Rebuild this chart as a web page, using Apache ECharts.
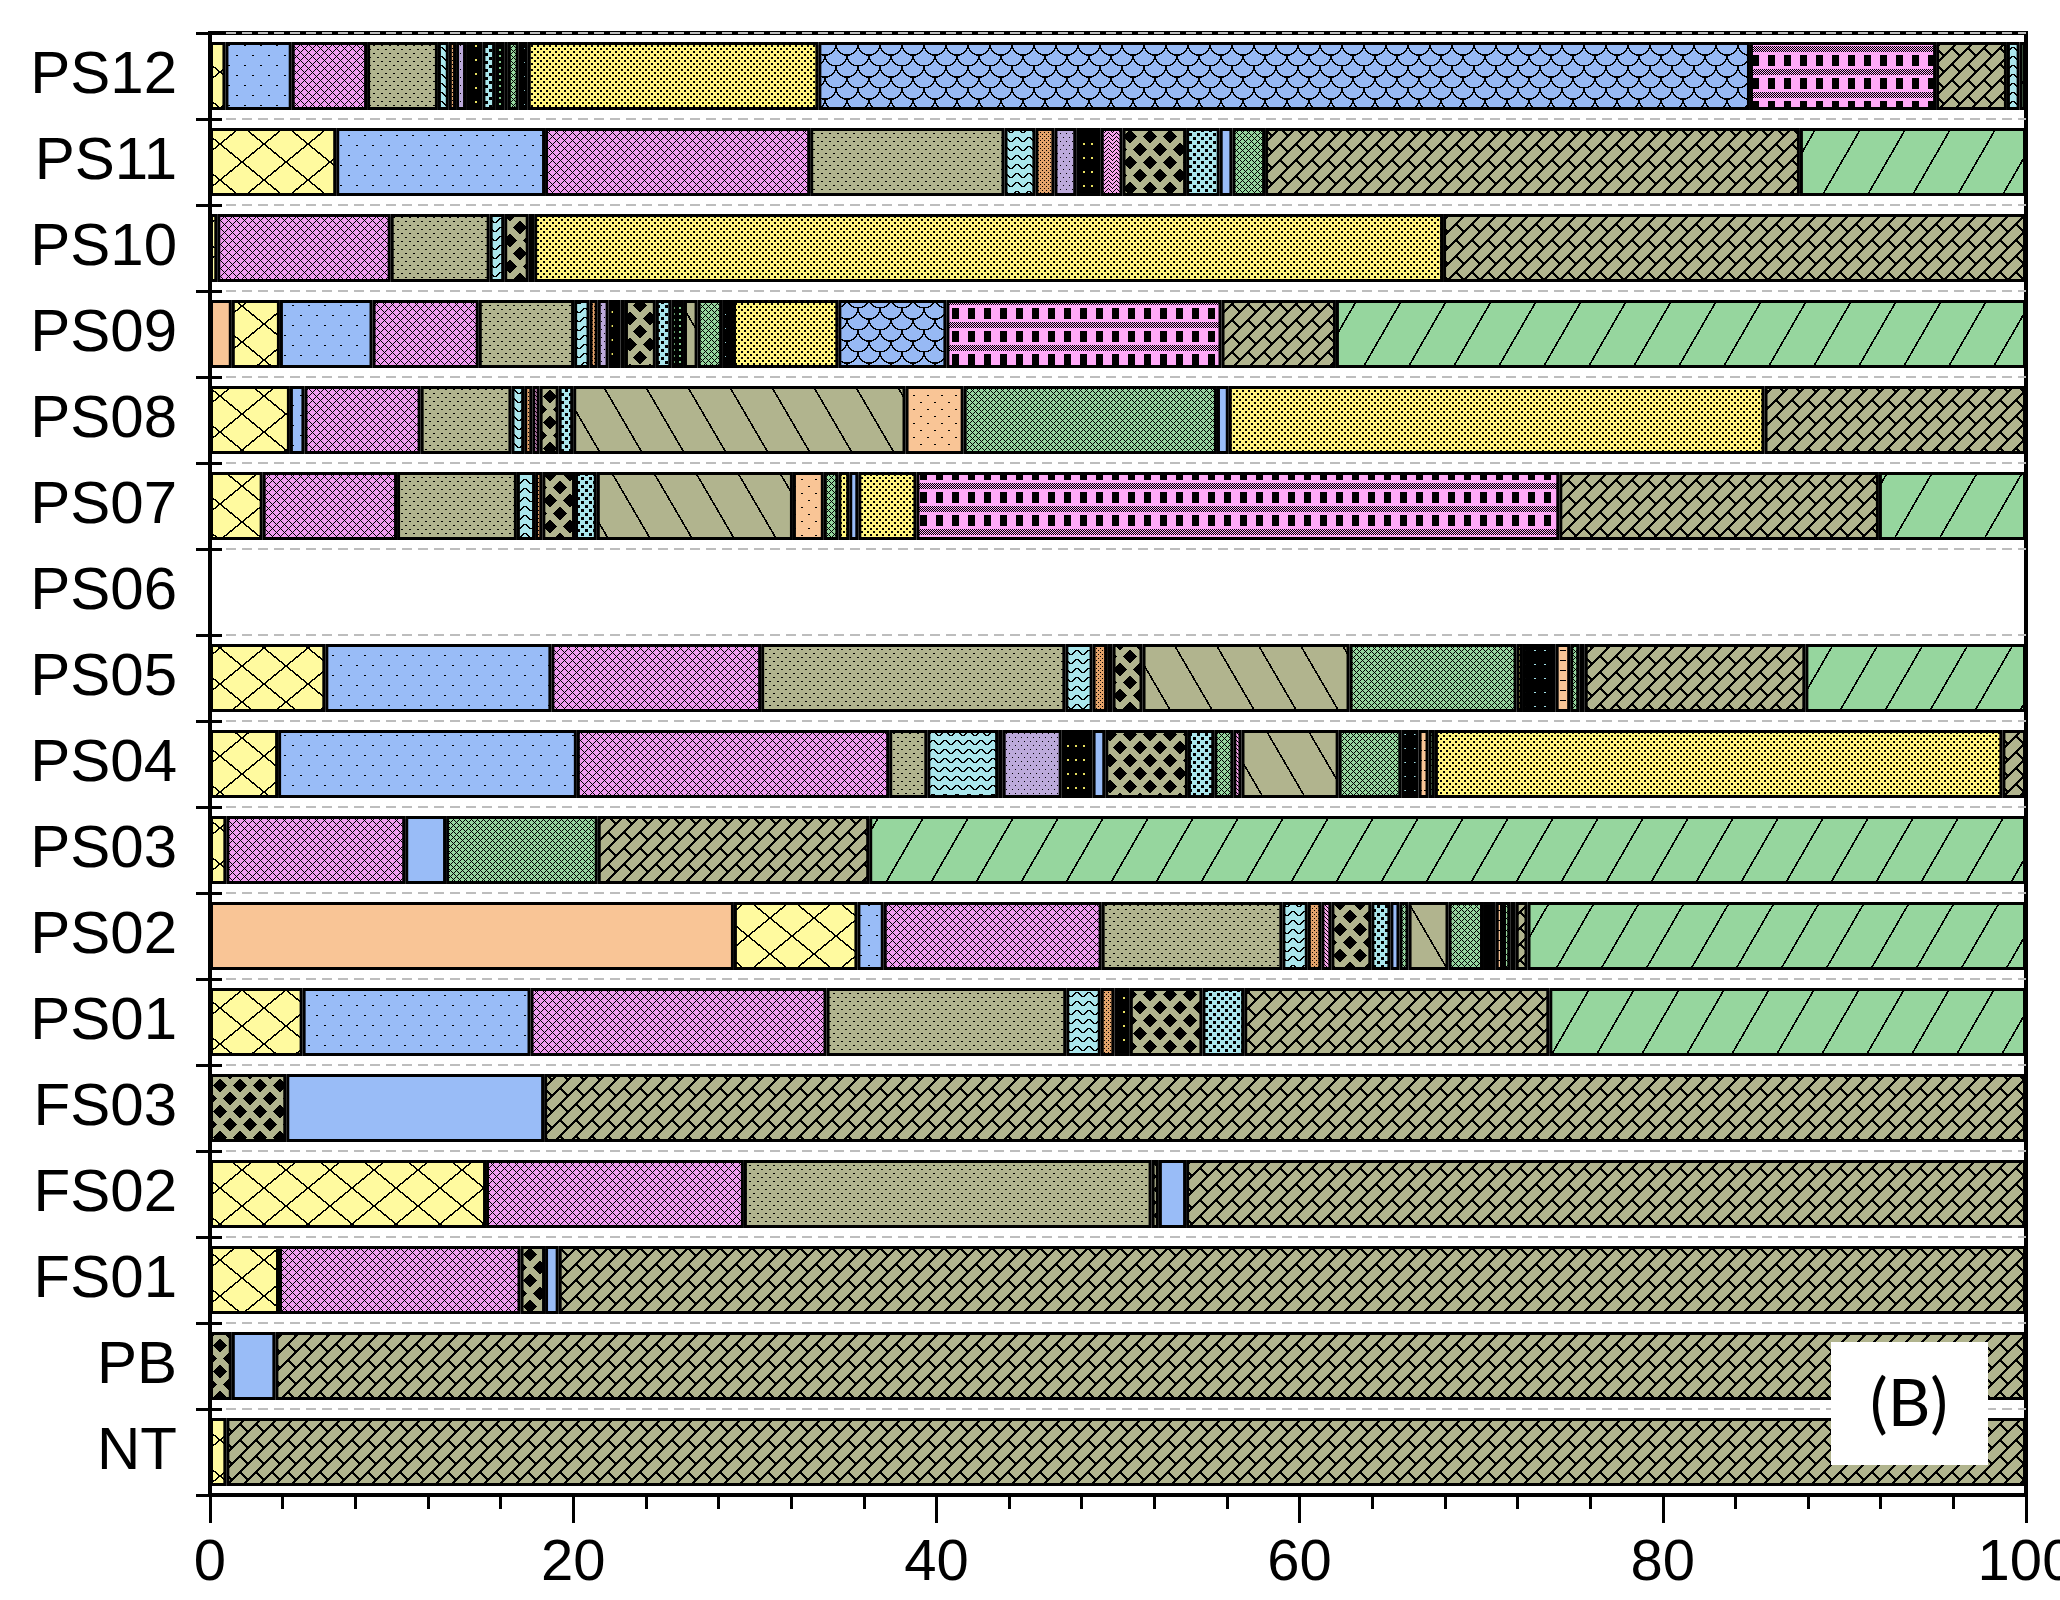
<!DOCTYPE html>
<html>
<head>
<meta charset="utf-8">
<script src="https://cdn.jsdelivr.net/npm/echarts@6/dist/echarts.min.js"></script>
<style>
  html, body { margin: 0; padding: 0; background: #fff; }
  #chart { width: 2060px; height: 1600px; }
</style>
</head>
<body>
<div id="chart"></div>
<script>
// categories, top to bottom
const categories = ['PS12', 'PS11', 'PS10', 'PS09', 'PS08', 'PS07', 'PS06', 'PS05', 'PS04', 'PS03', 'PS02', 'PS01', 'FS03', 'FS02', 'FS01', 'PB', 'NT']
const xTicks = [0, 20, 40, 60, 80, 100]

// stacked components (%), one value per category, stacking order left to right
const orangeSolid = [0, 0, 0, 1.2, 0, 0, 0, 0, 0, 0, 28.85, 0, 0, 0, 0, 0, 0]
const yellowX = [0.85, 6.95, 0.4, 2.65, 4.4, 2.9, 0, 6.35, 3.75, 0.9, 6.8, 5.1, 0, 15.2, 3.8, 0, 0.9]
const blueDots = [3.65, 11.5, 0, 5.1, 0.8, 0, 0, 12.45, 16.45, 0, 1.45, 12.55, 0, 0, 0, 0, 0]
const pinkX = [4.15, 14.6, 9.55, 5.85, 6.4, 7.4, 0, 11.55, 17.2, 9.85, 12.0, 16.3, 0, 14.2, 13.3, 0, 0]
const khakiDots = [3.9, 10.7, 5.45, 5.25, 5.0, 6.6, 0, 16.75, 2.1, 0, 9.95, 13.2, 0, 22.45, 0, 0, 0]
const cyanWave = [0.6, 1.7, 0.8, 0.85, 0.7, 1.0, 0, 1.5, 3.9, 0, 1.4, 1.9, 0, 0, 0, 0, 0]
const brown = [0.4, 1.05, 0, 0.45, 0.45, 0.4, 0, 0.8, 0.25, 0, 0.75, 0.75, 0, 0, 0, 0, 0]
const lavender = [0.55, 1.2, 0, 0.6, 0, 0, 0, 0, 3.25, 0, 0, 0, 0, 0, 0, 0, 0]
const blackYellow = [0.9, 1.35, 0, 0.65, 0, 0, 0, 0.3, 1.7, 0, 0, 0.85, 0, 0, 0, 0, 0]
const blueSolidA = [0, 0, 0, 0, 0, 0, 0, 0, 0.7, 0, 0, 0, 0, 0, 0, 0, 0]
const pinkHerring = [0, 1.2, 0, 0.25, 0.4, 0, 0, 0, 0, 0, 0.55, 0, 0, 0, 0, 0, 0]
const khakiDiamond = [0, 3.5, 1.35, 1.7, 1.05, 1.8, 0, 1.65, 4.55, 0, 2.2, 4.0, 4.2, 0.4, 1.35, 1.2, 0]
const cyanSquare = [0.7, 1.85, 0, 0.85, 0.8, 1.2, 0, 0, 1.45, 0, 1.05, 2.3, 0, 0, 0, 0, 0]
const blueSolid = [0, 0.7, 0.3, 0, 0, 0, 0, 0, 0, 2.25, 0.5, 0, 14.2, 1.5, 0.75, 2.4, 0]
const blackGreen = [0.5, 0, 0, 0.7, 0, 0, 0, 0, 0, 0, 0, 0, 0, 0, 0, 0, 0]
const greenSmall = [0, 1.8, 0, 0, 0, 0, 0, 0, 1.05, 8.35, 0.5, 0, 0, 0, 0, 0, 0]
const pinkHerring2 = [0, 0, 0, 0, 0, 0, 0, 0, 0.45, 0, 0, 0, 0, 0, 0, 0, 0]
const khakiDiag = [0.2, 0, 0, 0.75, 18.3, 10.8, 0, 11.4, 5.35, 0, 2.2, 0, 0, 0, 0, 0, 0]
const orangeDots = [0, 0, 0, 0, 3.2, 1.7, 0, 0, 0, 0, 0, 0, 0, 0, 0, 0, 0]
const greenX = [0.6, 0, 0, 1.35, 13.95, 0.8, 0, 9.2, 3.45, 0, 1.9, 0, 0, 0, 0, 0, 0]
const yellowThin = [0, 0, 0, 0, 0, 0.6, 0, 0.35, 0, 0, 0, 0, 0, 0, 0, 0, 0]
const blackDots = [0.5, 0, 0, 0.6, 0, 0, 0, 1.8, 0.95, 0, 0.7, 0, 0, 0, 0, 0, 0]
const orangeLines = [0, 0, 0, 0, 0, 0, 0, 0.8, 0.55, 0, 0.4, 0, 0, 0, 0, 0, 0]
const greenThin = [0, 0, 0, 0, 0, 0, 0, 0.5, 0.35, 0, 0.4, 0, 0, 0, 0, 0, 0]
const blackThin = [0, 0, 0, 0, 0, 0, 0, 0.3, 0, 0, 0.3, 0, 0, 0, 0, 0, 0]
const blueThin = [0, 0, 0, 0, 0.65, 0.5, 0, 0, 0, 0, 0, 0, 0, 0, 0, 0, 0]
const yellowDots = [16.0, 0, 50.05, 5.8, 29.5, 3.2, 0, 0, 31.25, 0, 0, 0, 0, 0, 0, 0, 0]
const blueScale = [51.3, 0, 0, 5.95, 0, 0, 0, 0, 0, 0, 0, 0, 0, 0, 0, 0, 0]
const pinkGrid = [10.25, 0, 0, 15.15, 0, 35.4, 0, 0, 0, 0, 0, 0, 0, 0, 0, 0, 0]
const khakiBrick = [3.9, 29.45, 32.1, 6.3, 14.4, 17.6, 0, 12.15, 1.3, 14.95, 0.65, 16.8, 81.6, 46.25, 80.8, 96.4, 99.1]
const cyanEnd = [0.7, 0, 0, 0, 0, 0, 0, 0, 0, 0, 0, 0, 0, 0, 0, 0, 0]
const greenSlash = [0.35, 12.45, 0, 38.0, 0, 8.1, 0, 12.15, 0, 63.7, 27.45, 26.25, 0, 0, 0, 0, 0]

// ---- fill patterns, drawn pixel by pixel like the office-style hatch fills
const KHAKI = '#b1b48e'
const YELLOW = '#fffa9f'
const BLUE = '#99bcf7'
const PINK = '#f09cf0'
const CYAN = '#aae6ec'
const GREEN = '#96d69e'
const ORANGE = '#f9c596'

function rgb(hex) {
  const n = parseInt(hex.slice(1), 16)
  return [(n >> 16) & 255, (n >> 8) & 255, n & 255]
}
function tile(w, h, bg, fg, rule) {
  const c = document.createElement('canvas')
  c.width = w
  c.height = h
  const ctx = c.getContext('2d')
  const img = ctx.createImageData(w, h)
  const b = rgb(bg), f = rgb(fg)
  for (let y = 0; y < h; y++) {
    for (let x = 0; x < w; x++) {
      const col = rule(x, y) ? f : b
      const i = (y * w + x) * 4
      img.data[i] = col[0]; img.data[i + 1] = col[1]; img.data[i + 2] = col[2]; img.data[i + 3] = 255
    }
  }
  ctx.putImageData(img, 0, 0)
  return { image: c, repeat: 'repeat' }
}
const mod = (a, m) => ((a % m) + m) % m
// distance test to a family of lines running through the tile corners
function near(a, period, norm, t) {
  const m = mod(a, period)
  return Math.min(m, period - m) / norm <= t
}
const inSet = (v, arr) => arr.indexOf(v) >= 0

const wave = (x, y) => Math.abs(y + 0.5 - (4.5 + 2 * Math.sin(2 * Math.PI * (x + 0.5) / 12))) < 0.9
const mesh6 = (x, y) => mod(x - y, 6) === 0 || mod(x + y, 6) === 0
const herring = (x, y) => (x < 4 ? mod(x + y, 4) === 0 : mod(y - x, 4) === 0)
const speckle = (x, y) => (inSet(x, [0, 1]) && inSet(y, [0, 1])) || (inSet(x, [3, 4]) && inSet(y, [3, 4]))

const fills = {
  orangeSolid: ORANGE,
  yellowX: tile(44, 36, YELLOW, '#000', (x, y) => {
    const px = x + 0.5, py = y + 0.5, n = Math.hypot(44, 36)
    return near(px * 36 - py * 44, 1584, n, 0.75) || near(px * 36 + py * 44, 1584, n, 0.75)
  }),
  blueDots: tile(16, 20, BLUE, '#000', (x, y) => (inSet(x, [4, 5]) && y === 5) || (inSet(x, [12, 13]) && y === 15)),
  pinkX: tile(8, 8, PINK, '#000', (x, y) => mod(x - y, 8) === 0 || mod(x + y, 8) === 0),
  khakiDots: tile(8, 8, KHAKI, '#000', (x, y) => (inSet(x, [1, 2]) && y === 1) || (inSet(x, [5, 6]) && y === 5)),
  cyanWave: tile(12, 9, CYAN, '#000', wave),
  brown: tile(4, 4, '#e3a36b', '#000', (x, y) => (x === 0 && y === 0) || (x === 2 && y === 2)),
  lavender: tile(6, 8, '#bcaadb', '#000', (x, y) => (x === 1 && y === 1) || (x === 4 && y === 5)),
  blackYellow: tile(8, 14, '#000', '#e8e060', (x, y) => inSet(x, [3, 4]) && inSet(y, [3, 4])),
  blueSolidA: BLUE,
  pinkHerring: tile(8, 8, '#f8a4ec', '#000', herring),
  khakiDiamond: tile(20, 26, KHAKI, '#000', (x, y) => {
    const px = x + 0.5, py = y + 0.5
    const d = (cx, cy) => Math.abs(px - cx) / 6.5 + Math.abs(py - cy) / 7 <= 1
    return d(10, 6.5) || d(0, 19.5) || d(20, 19.5)
  }),
  cyanSquare: tile(8, 8, CYAN, '#000', (x, y) => (x >= 1 && x <= 3 && y >= 1 && y <= 3) || (x >= 5 && x <= 7 && y >= 5 && y <= 7)),
  blueSolid: BLUE,
  blackGreen: tile(6, 6, '#000', '#7fcb8a', (x, y) => inSet(x, [1, 2]) && inSet(y, [1, 2])),
  greenSmall: tile(6, 6, GREEN, '#000', mesh6),
  pinkHerring2: tile(8, 8, '#f8a4ec', '#000', herring),
  khakiDiag: tile(42, 72, KHAKI, '#000', (x, y) => near((x + 0.5) * 72 - (y + 0.5) * 42, 3024, Math.hypot(42, 72), 0.8)),
  orangeDots: tile(14, 14, ORANGE, '#000', (x, y) => (inSet(x, [3, 4]) && y === 3) || (inSet(x, [10, 11]) && y === 10)),
  greenX: tile(6, 6, GREEN, '#000', mesh6),
  yellowThin: tile(6, 6, '#fff47e', '#000', speckle),
  blackDots: tile(10, 14, '#000', '#9fe0e8', (x, y) => inSet(x, [4, 5]) && y === 6),
  orangeLines: tile(8, 10, ORANGE, '#000', (x, y) => y === 0 && x < 6),
  greenThin: tile(6, 6, GREEN, '#000', mesh6),
  blackThin: '#000',
  blueThin: BLUE,
  yellowDots: tile(6, 6, '#fff47e', '#000', speckle),
  blueScale: tile(22, 22, '#97b9f4', '#000', (x, y) => {
    const px = x + 0.5, py = y + 0.5
    const arc = (cx, cy) => py >= cy && Math.abs(Math.hypot(px - cx, py - cy) - 11) < 0.85
    return arc(11, 0) || arc(0, 11) || arc(22, 11)
  }),
  pinkGrid: tile(16, 23, '#ffa9f7', '#000', (x, y) => (y < 6 && mod(x + y, 2) === 0) || (x >= 8 && x <= 14 && y >= 9 && y <= 19)),
  khakiBrick: tile(32, 32, KHAKI, '#000', (x, y) => {
    const u = x + y + 1, v = x - y
    const m = mod(u, 16)
    if (Math.min(m, 16 - m) <= 1) return true
    const strip = Math.floor(mod(u, 32) / 16)
    const w = mod(v - (strip ? 16 : 0), 32)
    return Math.min(w, 32 - w) <= 1
  }),
  cyanEnd: tile(12, 9, CYAN, '#000', wave),
  greenSlash: tile(45, 78, GREEN, '#000', (x, y) => near((x + 0.5) * 78 + (y + 0.5) * 45, 3510, Math.hypot(45, 78), 0.8))
}

const stackOrder = [
  ['orangeSolid', orangeSolid], ['yellowX', yellowX], ['blueDots', blueDots], ['pinkX', pinkX],
  ['khakiDots', khakiDots], ['cyanWave', cyanWave], ['brown', brown], ['lavender', lavender],
  ['blackYellow', blackYellow], ['blueSolidA', blueSolidA], ['pinkHerring', pinkHerring],
  ['khakiDiamond', khakiDiamond], ['cyanSquare', cyanSquare], ['blueSolid', blueSolid],
  ['blackGreen', blackGreen], ['greenSmall', greenSmall], ['pinkHerring2', pinkHerring2],
  ['khakiDiag', khakiDiag], ['orangeDots', orangeDots], ['greenX', greenX], ['yellowThin', yellowThin],
  ['blackDots', blackDots], ['orangeLines', orangeLines], ['greenThin', greenThin], ['blackThin', blackThin],
  ['blueThin', blueThin], ['yellowDots', yellowDots], ['blueScale', blueScale], ['pinkGrid', pinkGrid],
  ['khakiBrick', khakiBrick], ['cyanEnd', cyanEnd], ['greenSlash', greenSlash]
]

const series = stackOrder.map(([name, values]) => ({
  name,
  type: 'bar',
  stack: 'total',
  barWidth: 68,
  silent: true,
  data: values.map(v => (v > 0 ? v : '-')),
  itemStyle: { color: fills[name], borderColor: '#000', borderWidth: 3 }
}))

const chart = echarts.init(document.getElementById('chart'))
const option = {
  animation: false,
  backgroundColor: '#fff',
  textStyle: { fontFamily: 'Liberation Sans' },
  grid: {
    left: 210, right: 34, top: 33, bottom: 105,
    containLabel: false, outerBoundsMode: 'none',
    show: true, borderColor: '#000', borderWidth: 4
  },
  xAxis: {
    type: 'value',
    min: xTicks[0],
    max: xTicks[xTicks.length - 1],
    interval: 20,
    axisLine: { show: true, lineStyle: { color: '#000', width: 4 } },
    axisTick: { show: true, length: 28, lineStyle: { color: '#000', width: 3 } },
    minorTick: { show: true, splitNumber: 5, length: 14, lineStyle: { color: '#000', width: 3 } },
    axisLabel: { fontSize: 58, color: '#000', margin: 40, showMaxLabel: true },
    splitLine: { show: false }
  },
  yAxis: [
    {
      type: 'category',
      data: categories,
      inverse: true,
      axisLine: { show: true, lineStyle: { color: '#000', width: 4 } },
      axisTick: { show: true, length: 14, lineStyle: { color: '#000', width: 3 } },
      axisLabel: { fontSize: 60, color: '#000', margin: 33 },
      splitLine: { show: true, lineStyle: { color: '#bdbdbd', width: 2, type: [10, 6] } }
    },
    {
      // inner half of the cross ticks
      type: 'category',
      data: categories,
      inverse: true,
      position: 'left',
      axisLine: { show: false },
      axisTick: { show: true, inside: true, length: 12, lineStyle: { color: '#000', width: 3 } },
      axisLabel: { show: false },
      splitLine: { show: false }
    }
  ],
  graphic: [
    { type: 'rect', z: 100, shape: { x: 1831, y: 1342, width: 157, height: 123 }, style: { fill: '#fff' } },
    {
      type: 'text', z: 101, x: 1909, y: 1405,
      style: { text: '(B)', fontSize: 66, fontFamily: 'Lato', fill: '#000', align: 'center', verticalAlign: 'middle' }
    }
  ],
  series
}
chart.setOption(option)
</script>
</body>
</html>
